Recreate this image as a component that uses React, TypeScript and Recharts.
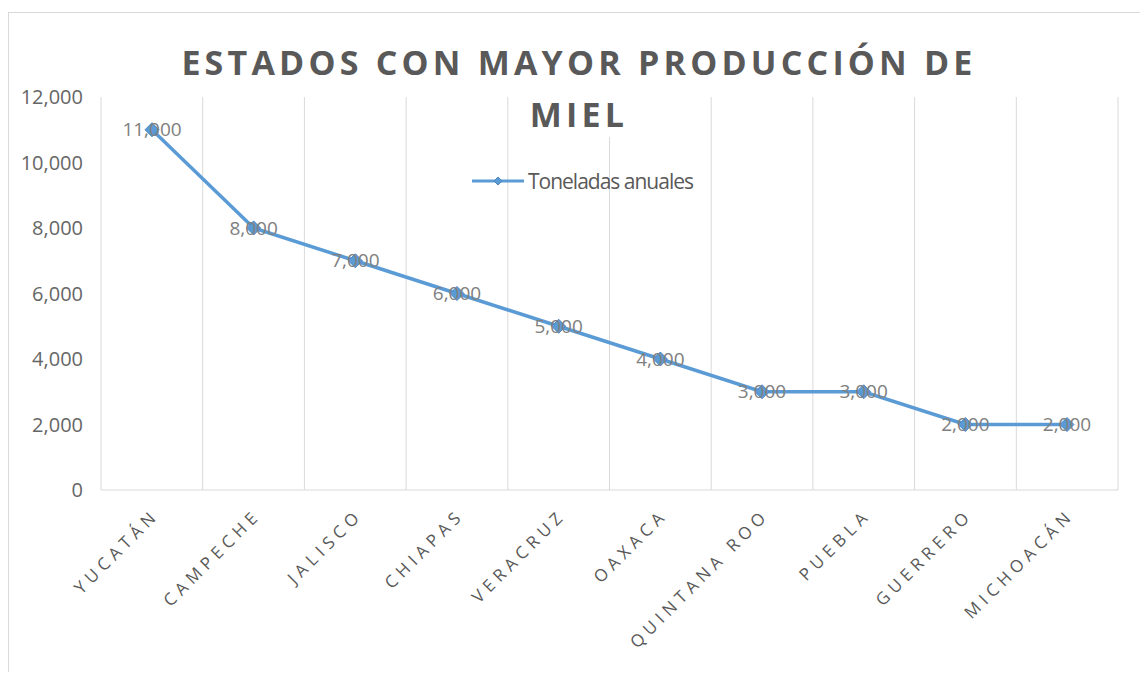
import { CartesianGrid, LabelList, Line, LineChart, XAxis, YAxis } from "recharts";

const ESTADOS = [
  "YUCATÁN", "CAMPECHE", "JALISCO", "CHIAPAS", "VERACRUZ",
  "OAXACA", "QUINTANA ROO", "PUEBLA", "GUERRERO", "MICHOACÁN",
];
const TONELADAS = [11000, 8000, 7000, 6000, 5000, 4000, 3000, 3000, 2000, 2000];
const Y_TICKS = [0, 2000, 4000, 6000, 8000, 10000, 12000];

const SERIE = "Toneladas anuales";
const AZUL = "#5b9bd5";
const FONT = "'Open Sans', 'Liberation Sans', sans-serif";

const data = ESTADOS.map((estado, i) => ({ estado, valor: TONELADAS[i] }));

const fmt = (v: number) => v.toLocaleString("en-US");

const Diamond = (props: any) => {
  const { cx, cy } = props;
  if (cx == null || cy == null) return null;
  const r = 7;
  return (
    <polygon
      points={`${cx},${cy - r} ${cx + r},${cy} ${cx},${cy + r} ${cx - r},${cy}`}
      fill={AZUL}
      stroke="#4a84bf"
      strokeWidth={1}
    />
  );
};

const EstadoTick = (props: any) => {
  const { x, y, payload } = props;
  return (
    <g transform={`translate(${x + 4},${y + 14}) rotate(-45)`}>
      <text
        x={0}
        y={0}
        dy="0.35em"
        textAnchor="end"
        fill="#595959"
        fontSize={17}
        letterSpacing={5}
        fontFamily={FONT}
      >
        {payload.value}
      </text>
    </g>
  );
};

const gridBordes = ({ offset }: any) =>
  ESTADOS.map((_, i) => offset.left + (i * offset.width) / ESTADOS.length).concat(
    offset.left + offset.width,
  );

export default function App() {
  return (
    <div
      style={{
        position: "relative",
        top: 4,
        width: 1139,
        height: 664,
        borderTop: "1px solid #d9d9d9",
        borderLeft: "1px solid #d9d9d9",
        background: "#fff",
        boxSizing: "border-box",
      }}
    >
      <LineChart
        width={1138}
        height={660}
        data={data}
        margin={{ top: 84, right: 29, left: 12, bottom: 33 }}
      >
        <CartesianGrid
          horizontal={false}
          stroke="#d9d9d9"
          verticalCoordinatesGenerator={gridBordes}
        />
        <XAxis
          dataKey="estado"
          interval={0}
          height={150}
          padding={{ left: 51, right: 51 }}
          tickLine={false}
          axisLine={{ stroke: "#d9d9d9" }}
          tick={<EstadoTick />}
        />
        <YAxis
          width={80}
          domain={[0, 12000]}
          ticks={Y_TICKS}
          tickFormatter={fmt}
          axisLine={false}
          tickLine={false}
          tickMargin={12}
          tick={{ fill: "#666666", fontSize: 20, fontFamily: FONT }}
        />
        <Line
          type="linear"
          dataKey="valor"
          name={SERIE}
          stroke={AZUL}
          strokeWidth={3.5}
          dot={<Diamond />}
          activeDot={false}
          isAnimationActive={false}
        >
          <LabelList
            dataKey="valor"
            position="center"
            formatter={(v: any) => fmt(Number(v))}
            fill="#808080"
            fontSize={19}
            fontFamily={FONT}
          />
        </Line>
      </LineChart>
      <div
        style={{
          position: "absolute",
          top: 23,
          left: 0,
          width: 1140,
          textAlign: "center",
          fontFamily: FONT,
          fontWeight: 700,
          fontSize: 34,
          letterSpacing: 4.2,
          lineHeight: "52px",
          color: "#595959",
          pointerEvents: "none",
        }}
      >
        <div>ESTADOS CON MAYOR PRODUCCIÓN DE</div>
        <div>
          <span style={{ background: "#fff", padding: "0 8px" }}>MIEL</span>
        </div>
      </div>
      <div
        style={{
          position: "absolute",
          top: 154,
          left: 463,
          display: "flex",
          alignItems: "center",
          fontFamily: FONT,
          fontSize: 21,
          letterSpacing: -1,
          color: "#595959",
        }}
      >
        <svg width={52} height={14}>
          <line x1={0} y1={7} x2={52} y2={7} stroke={AZUL} strokeWidth={3} />
          <polygon points="26,3 30,7 26,11 22,7" fill={AZUL} stroke="#4a84bf" />
        </svg>
        <span style={{ marginLeft: 4 }}>{SERIE}</span>
      </div>
    </div>
  );
}
